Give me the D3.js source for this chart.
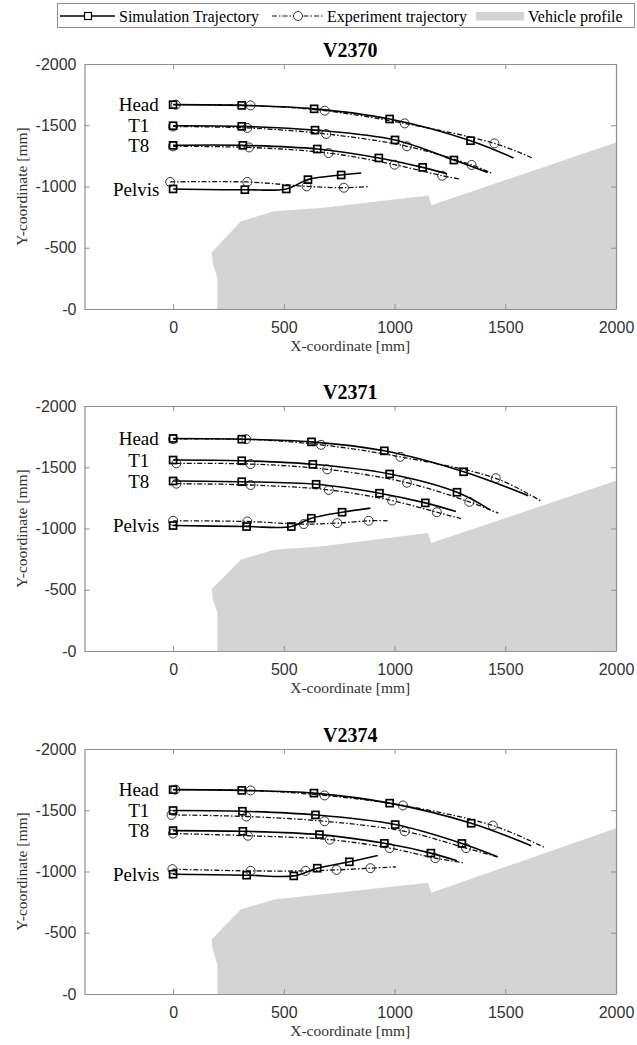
<!DOCTYPE html>
<html>
<head>
<meta charset="utf-8">
<script src="https://d3js.org/d3.v7.min.js"></script>
<style>
  body { margin: 0; background: #fff; }
  svg { display: block; }
</style>
</head>
<body>
<div id="chart"></div>
<script>
const tests = ['V2370', 'V2371', 'V2374'];
const bodyParts = ['Head', 'T1', 'T8', 'Pelvis'];
const xTicks = [0, 500, 1000, 1500, 2000];
const yTicks = [0, -500, -1000, -1500, -2000];

// trajectories in mm, one list per body part (Head, T1, T8, Pelvis)
// the last point of each list is where the line stops (no marker there)
const sim2370 = [
  [[0, -1668], [310, -1662], [637, -1634], [978, -1551], [1343, -1374], [1537, -1233]],
  [[0, -1496], [310, -1491], [641, -1460], [1002, -1380], [1268, -1216], [1420, -1115]],
  [[0, -1336], [315, -1336], [651, -1306], [929, -1233], [1127, -1156], [1237, -1104]],
  [[0, -980], [324, -974], [511, -980], [609, -1056], [759, -1094], [850, -1110]]
];
const exp2370 = [
  [[12, -1668], [350, -1662], [685, -1619], [1046, -1515], [1451, -1352], [1622, -1233]],
  [[0, -1490], [335, -1478], [691, -1429], [1056, -1328], [1348, -1176], [1444, -1104]],
  [[0, -1328], [343, -1319], [702, -1273], [1000, -1178], [1215, -1088], [1294, -1061]],
  [[-13, -1037], [335, -1037], [603, -1001], [771, -990], [888, -1001]]
];
const sim2371 = [
  [[0, -1735], [310, -1729], [625, -1707], [954, -1634], [1312, -1463], [1604, -1268]],
  [[0, -1559], [310, -1553], [631, -1524], [978, -1445], [1282, -1296], [1432, -1152]],
  [[0, -1388], [310, -1382], [646, -1361], [932, -1288], [1139, -1209], [1277, -1138]],
  [[0, -1024], [332, -1016], [534, -1016], [624, -1084], [763, -1133], [891, -1166]]
];
const exp2371 = [
  [[0, -1729], [330, -1729], [668, -1683], [1026, -1585], [1457, -1410], [1660, -1225]],
  [[15, -1532], [350, -1526], [696, -1483], [1056, -1374], [1338, -1217], [1469, -1125]],
  [[15, -1366], [350, -1355], [703, -1315], [989, -1228], [1191, -1133], [1300, -1081]],
  [[0, -1063], [335, -1057], [590, -1036], [741, -1044], [883, -1063], [969, -1063]]
];
const sim2374 = [
  [[0, -1668], [310, -1662], [636, -1640], [978, -1558], [1346, -1394], [1617, -1210]],
  [[0, -1498], [313, -1492], [643, -1462], [1003, -1383], [1304, -1229], [1465, -1120]],
  [[0, -1334], [315, -1328], [661, -1301], [954, -1230], [1164, -1150], [1282, -1087]],
  [[0, -978], [332, -970], [545, -964], [651, -1027], [796, -1079], [924, -1131]]
];
const exp2374 = [
  [[10, -1668], [350, -1662], [684, -1621], [1038, -1539], [1444, -1375], [1683, -1191]],
  [[-7, -1462], [331, -1449], [684, -1410], [1046, -1328], [1323, -1191], [1465, -1120]],
  [[0, -1310], [338, -1292], [708, -1260], [978, -1191], [1184, -1109], [1312, -1071]],
  [[-3, -1019], [350, -1005], [598, -1005], [738, -1013], [891, -1027], [1007, -1038]]
];

// vehicle outline in mm
const car2370 = [[200, 0], [200, -253], [179, -375], [174, -462], [305, -715], [455, -797], [666, -824],
  [1154, -927], [1166, -846], [2000, -1360], [2000, 0]];
const car2371 = [[200, 0], [200, -312], [179, -425], [174, -505], [305, -745], [455, -827], [666, -854],
  [1151, -963], [1166, -881], [2000, -1390], [2000, 0]];
const car2374 = [[200, 0], [200, -238], [179, -361], [174, -444], [305, -690], [455, -772], [666, -813],
  [1151, -909], [1166, -827], [2000, -1353], [2000, 0]];

const panels = [
  { title: tests[0], sim: sim2370, exp: exp2370, car: car2370 },
  { title: tests[1], sim: sim2371, exp: exp2371, car: car2371 },
  { title: tests[2], sim: sim2374, exp: exp2374, car: car2374 }
];

const width = 637, height = 1045;
const left = 84.5, right = 616, plotH = 245;
const tops = [64, 406, 749];
const serif = '"Liberation Serif", "Times New Roman", serif';
const sans = '"Liberation Sans", Arial, sans-serif';
const boxColor = '#8f8f8f';
const carColor = '#d4d4d4';
const dashDot = '5,2,1.5,2';

const svg = d3.select('#chart').append('svg')
  .attr('width', width)
  .attr('height', height)
  .style('background', '#fff');

const x = d3.scaleLinear().domain([-400, 2000]).range([left, right]);

const smooth = d3.line()
  .x(d => x(d[0]))
  .curve(d3.curveCatmullRom.alpha(0.5));

// legend
const legend = svg.append('g').attr('class', 'legend');
legend.append('rect')
  .attr('x', 57.5).attr('y', 3.5).attr('width', 577).attr('height', 24)
  .attr('fill', '#fff').attr('stroke', boxColor).attr('stroke-width', 1);
const ly = 16;
legend.append('line').attr('x1', 60).attr('x2', 115).attr('y1', ly).attr('y2', ly)
  .attr('stroke', '#000').attr('stroke-width', 1.4);
legend.append('rect').attr('x', 88 - 3.5).attr('y', ly - 3.5).attr('width', 7).attr('height', 7)
  .attr('fill', '#fff').attr('stroke', '#000').attr('stroke-width', 1.2);
legend.append('text').attr('x', 119).attr('y', ly).attr('dy', '0.35em')
  .attr('font-family', serif).attr('font-size', 16).text('Simulation Trajectory');
legend.append('line').attr('x1', 272).attr('x2', 323).attr('y1', ly).attr('y2', ly)
  .attr('stroke', '#111').attr('stroke-width', 1.2).attr('stroke-dasharray', dashDot);
legend.append('circle').attr('cx', 298).attr('cy', ly).attr('r', 4.5)
  .attr('fill', '#fff').attr('stroke', '#333').attr('stroke-width', 1);
legend.append('text').attr('x', 327).attr('y', ly).attr('dy', '0.35em')
  .attr('font-family', serif).attr('font-size', 16).text('Experiment trajectory');
legend.append('rect').attr('x', 476).attr('y', 12).attr('width', 48).attr('height', 8.5)
  .attr('fill', carColor);
legend.append('text').attr('x', 528).attr('y', ly).attr('dy', '0.35em')
  .attr('font-family', serif).attr('font-size', 16).text('Vehicle profile');

panels.forEach(function(p, i) {
  const top = tops[i];
  const bottom = top + plotH;
  const y = d3.scaleLinear().domain([0, -2000]).range([bottom, top]);
  const line = smooth.y(d => y(d[1]));

  const g = svg.append('g').attr('class', 'panel');

  g.append('clipPath').attr('id', 'clip' + i)
    .append('rect').attr('x', left).attr('y', top).attr('width', right - left).attr('height', plotH);

  // vehicle profile
  g.append('path')
    .datum(p.car)
    .attr('clip-path', 'url(#clip' + i + ')')
    .attr('d', d3.line().x(d => x(d[0])).y(d => y(d[1])))
    .attr('fill', carColor);

  // axes (MATLAB style: inward ticks on all four sides)
  const fmtY = d => d === 0 ? '-0' : String(d);
  const bottomAxis = g.append('g').attr('transform', `translate(0,${bottom})`)
    .call(d3.axisBottom(x).tickValues(xTicks).tickSizeInner(-5).tickSizeOuter(0).tickPadding(13)
      .tickFormat(d3.format('d')));
  const topAxis = g.append('g').attr('transform', `translate(0,${top})`)
    .call(d3.axisTop(x).tickValues(xTicks).tickSizeInner(-5).tickSizeOuter(0).tickFormat(''));
  const leftAxis = g.append('g').attr('transform', `translate(${left},0)`)
    .call(d3.axisLeft(y).tickValues(yTicks).tickSizeInner(-5).tickSizeOuter(0).tickPadding(8).tickFormat(fmtY));
  const rightAxis = g.append('g').attr('transform', `translate(${right},0)`)
    .call(d3.axisRight(y).tickValues(yTicks).tickSizeInner(-5).tickSizeOuter(0).tickFormat(''));

  [bottomAxis, topAxis, leftAxis, rightAxis].forEach(function(a) {
    a.select('.domain').attr('stroke', boxColor).attr('stroke-width', 1.2);
    a.selectAll('.tick line').attr('stroke', boxColor).attr('stroke-width', 1);
    a.selectAll('.tick text')
      .attr('font-family', sans).attr('font-size', 16).attr('fill', '#333');
  });

  // experiment trajectories
  p.exp.forEach(function(track) {
    g.append('path').datum(track)
      .attr('d', line)
      .attr('fill', 'none').attr('stroke', '#111').attr('stroke-width', 1.3)
      .attr('stroke-dasharray', dashDot);
    g.selectAll(null).data(track.slice(0, -1)).enter().append('circle')
      .attr('cx', d => x(d[0])).attr('cy', d => y(d[1])).attr('r', 4.5)
      .attr('fill', 'none').attr('stroke', '#333').attr('stroke-width', 1);
  });

  // simulation trajectories
  p.sim.forEach(function(track) {
    g.append('path').datum(track)
      .attr('d', line)
      .attr('fill', 'none').attr('stroke', '#000').attr('stroke-width', 1.6);
    g.selectAll(null).data(track.slice(0, -1)).enter().append('rect')
      .attr('x', d => x(d[0]) - 3.5).attr('y', d => y(d[1]) - 3.5)
      .attr('width', 7).attr('height', 7)
      .attr('fill', 'none').attr('stroke', '#000').attr('stroke-width', 1.7);
  });

  // body part names next to the start of each simulated track
  bodyParts.forEach(function(name, k) {
    const start = p.sim[k][0];
    const isPelvis = name === 'Pelvis';
    g.append('text')
      .attr('x', isPelvis ? x(-62) : x(-155))
      .attr('y', y(start[1]))
      .attr('dy', '0.35em')
      .attr('text-anchor', isPelvis ? 'end' : 'middle')
      .attr('font-family', serif).attr('font-size', 19)
      .text(name);
  });

  // title and axis labels
  g.append('text')
    .attr('x', (left + right) / 2).attr('y', top - 14).attr('dy', '0.35em')
    .attr('text-anchor', 'middle')
    .attr('font-family', serif).attr('font-size', 20).attr('font-weight', 'bold')
    .text(p.title);
  g.append('text')
    .attr('x', (left + right) / 2).attr('y', bottom + 37).attr('dy', '0.35em')
    .attr('text-anchor', 'middle')
    .attr('font-family', serif).attr('font-size', 15.5).attr('fill', '#333')
    .text('X-coordinate [mm]');
  g.append('text')
    .attr('transform', `translate(22,${top + plotH / 2}) rotate(-90)`)
    .attr('dy', '0.35em')
    .attr('text-anchor', 'middle')
    .attr('font-family', serif).attr('font-size', 15.5).attr('fill', '#333')
    .text('Y-coordinate [mm]');
});
</script>
</body>
</html>
